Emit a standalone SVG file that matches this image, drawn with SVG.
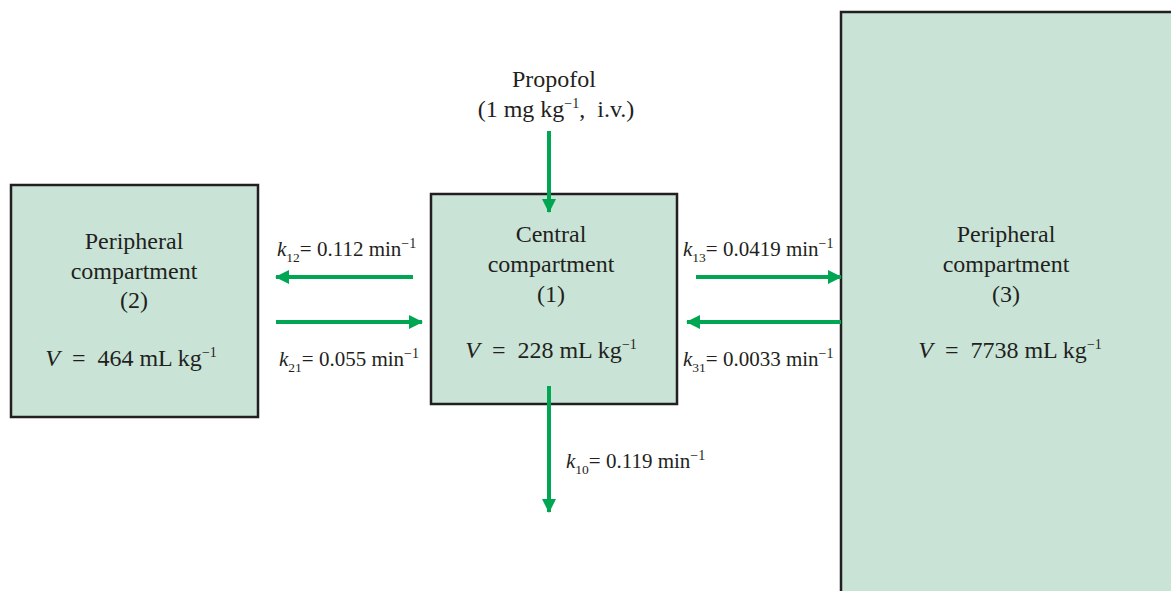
<svg xmlns="http://www.w3.org/2000/svg" width="1171" height="591" viewBox="0 0 1171 591">
<style>
.box{fill:#c9e4d7;stroke:#231f20;stroke-width:2.5}
text{white-space:pre}
.t{font-family:"Liberation Serif",serif;font-size:24px;fill:#231f20;text-anchor:middle}
.k{font-family:"Liberation Serif",serif;font-size:21px;fill:#231f20}
.sub{font-size:13.5px}
.sup{font-size:14px}
.ln{stroke:#00a651;stroke-width:4;fill:none}
</style>
<defs>
<marker id="ah" viewBox="0 0 14 14" refX="13" refY="7" markerWidth="14" markerHeight="14" markerUnits="userSpaceOnUse" orient="auto">
<path d="M0,0 L14,7 L0,14 Z" fill="#00a651"/>
</marker>
</defs>
<rect width="1171" height="591" fill="#fff"/>
<g id="peripheral2">
<rect class="box" x="11" y="185" width="247" height="232"/>
<text class="t" x="134" y="249">Peripheral</text>
<text class="t" x="134" y="279">compartment</text>
<text class="t" x="134" y="308">(2)</text>
<text class="t" x="131" y="366"><tspan font-style="italic">V</tspan>  =  464 mL kg<tspan class="sup" dy="-9">−1</tspan></text>
</g>
<g id="central1">
<rect class="box" x="431" y="194" width="246" height="210"/>
<text class="t" x="551" y="242">Central</text>
<text class="t" x="551" y="272">compartment</text>
<text class="t" x="551" y="302">(1)</text>
<text class="t" x="551" y="358"><tspan font-style="italic">V</tspan>  =  228 mL kg<tspan class="sup" dy="-9">−1</tspan></text>
</g>
<g id="peripheral3">
<rect class="box" x="841" y="12" width="340" height="590"/>
<text class="t" x="1006" y="242">Peripheral</text>
<text class="t" x="1006" y="272">compartment</text>
<text class="t" x="1006" y="302">(3)</text>
<text class="t" x="1010" y="358"><tspan font-style="italic">V</tspan>  =  7738 mL kg<tspan class="sup" dy="-9">−1</tspan></text>
</g>
<g id="propofol">
<text class="t" x="554" y="87">Propofol</text>
<text class="t" x="556" y="117">(1 mg kg<tspan class="sup" dy="-9">−1</tspan><tspan dy="9">,  i.v.)</tspan></text>
</g>
<g id="connectors">
<line class="ln" x1="549" y1="131" x2="549" y2="212" marker-end="url(#ah)"/>
<line class="ln" x1="413" y1="277" x2="276" y2="277" marker-end="url(#ah)"/>
<line class="ln" x1="276" y1="322" x2="422" y2="322" marker-end="url(#ah)"/>
<line class="ln" x1="696" y1="277" x2="841" y2="277" marker-end="url(#ah)"/>
<line class="ln" x1="841" y1="322" x2="687" y2="322" marker-end="url(#ah)"/>
<line class="ln" x1="549" y1="386" x2="549" y2="512" marker-end="url(#ah)"/>
<text class="k" x="277" y="256"><tspan font-style="italic">k</tspan><tspan class="sub" dy="6">12</tspan><tspan dy="-6">= 0.112 min</tspan><tspan class="sup" dy="-8">−1</tspan></text>
<text class="k" x="279" y="366"><tspan font-style="italic">k</tspan><tspan class="sub" dy="6">21</tspan><tspan dy="-6">= 0.055 min</tspan><tspan class="sup" dy="-8">−1</tspan></text>
<text class="k" x="683" y="256"><tspan font-style="italic">k</tspan><tspan class="sub" dy="6">13</tspan><tspan dy="-6">= 0.0419 min</tspan><tspan class="sup" dy="-8">−1</tspan></text>
<text class="k" x="683" y="366"><tspan font-style="italic">k</tspan><tspan class="sub" dy="6">31</tspan><tspan dy="-6">= 0.0033 min</tspan><tspan class="sup" dy="-8">−1</tspan></text>
<text class="k" x="566" y="468"><tspan font-style="italic">k</tspan><tspan class="sub" dy="6">10</tspan><tspan dy="-6">= 0.119 min</tspan><tspan class="sup" dy="-8">−1</tspan></text>
</g>
</svg>
